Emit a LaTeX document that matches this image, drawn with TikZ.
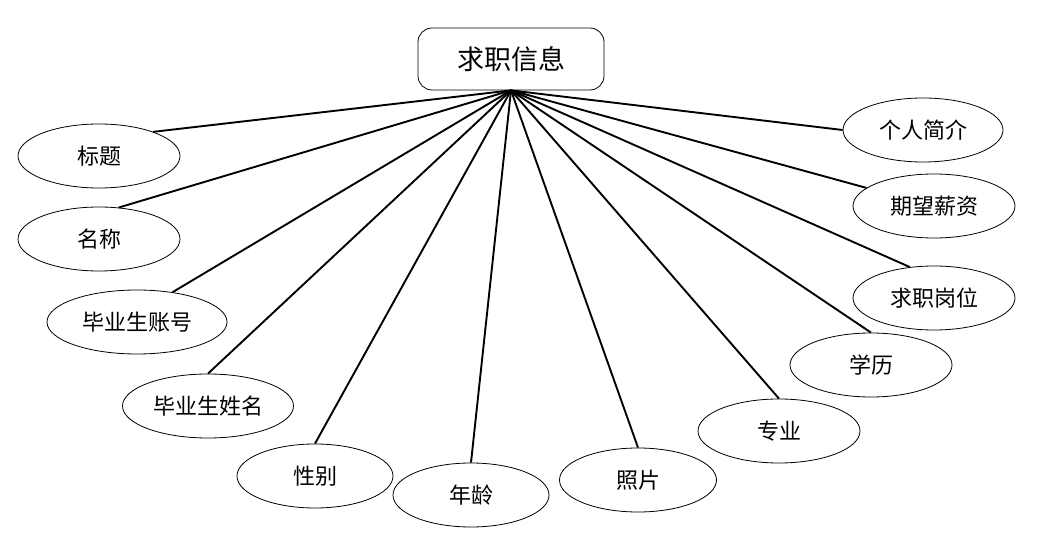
\documentclass[tikz,border=0pt]{standalone}
\usepackage{fontspec}
\setmainfont{Noto Sans CJK SC}
\usetikzlibrary{shapes.geometric}

\begin{document}
\begin{tikzpicture}[x=1pt,y=-1pt,
  attr/.style={draw,ellipse,line width=0.8pt,minimum width=162pt,minimum height=64pt,inner sep=0pt,font=\fontsize{22}{22}\selectfont},
  entity/.style={draw,rounded corners=14pt,line width=0.8pt,minimum width=186pt,minimum height=62pt,inner sep=0pt,font=\fontsize{27}{27}\selectfont},
  link/.style={line width=1.9pt}]
\useasboundingbox (0,0) rectangle (1050,534);
\node[entity] (job) at (511,59) {求职信息};
\node[attr] (title) at (99,156) {标题};
\node[attr] (name) at (99,239) {名称};
\node[attr,minimum width=180pt] (account) at (137,322) {毕业生账号};
\node[attr,minimum width=171pt] (stuname) at (208,406) {毕业生姓名};
\node[attr,minimum width=156pt] (gender) at (315,476) {性别};
\node[attr,minimum width=156pt] (age) at (471,495) {年龄};
\node[attr,minimum width=157pt] (photo) at (638,480) {照片};
\node[attr] (major) at (779,431) {专业};
\node[attr] (degree) at (871,365) {学历};
\node[attr] (post) at (934,298) {求职岗位};
\node[attr] (salary) at (934,206) {期望薪资};
\node[attr,minimum width=160pt] (intro) at (923,130) {个人简介};
\foreach \n/\a in {title/24,name/58,account/40,stuname/90,gender/90,age/90,photo/90,major/90,degree/90,post/128,salary/165,intro/180}
  \draw[link] (job.south) -- (\n.\a);
\end{tikzpicture}
\end{document}
